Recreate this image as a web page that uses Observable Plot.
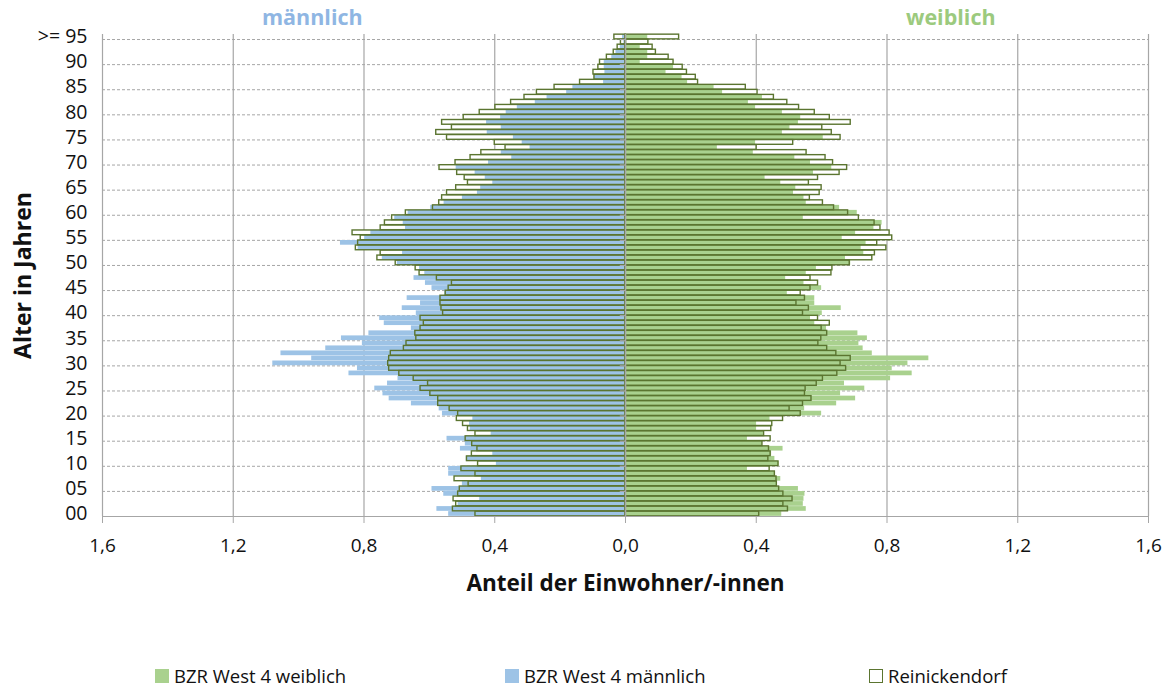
<!DOCTYPE html>
<html>
<head>
<meta charset="utf-8">
<script src="https://cdn.jsdelivr.net/npm/d3@7"></script>
<script src="https://cdn.jsdelivr.net/npm/@observablehq/plot@0.6"></script>
<style>
  html, body { margin: 0; padding: 0; background: #fff; }
  #wrap { position: relative; width: 1172px; height: 686px; font-family: "Open Sans", Lato, sans-serif; }
  .hdr { position: absolute; top: 2px; font-weight: 700; font-size: 21.5px; }
  .leg { position: absolute; top: 663px; font-size: 18.5px; color: #111; display: flex; align-items: center; }
  .sw { display: inline-block; width: 14px; height: 14px; margin-right: 5px; box-sizing: border-box; }
</style>
</head>
<body>
<div id="wrap"></div>
<script>
// Age categories 0 .. 95 (95 = ">= 95")
const ages = d3.range(0, 96);
const ageTickLabels = ["00","05","10","15","20","25","30","35","40","45","50","55","60","65","70","75","80","85","90",">= 95"];
const ageTicks = [0,5,10,15,20,25,30,35,40,45,50,55,60,65,70,75,80,85,90,95];
const xTicks = [-1.6,-1.2,-0.8,-0.4,0,0.4,0.8,1.2,1.6];
const seriesNames = ["BZR West 4 weiblich", "BZR West 4 männlich", "Reinickendorf"];

// Share of residents (%) by age, index = age
const bzrMaennlich = [
0.541,0.577,0.512,0.446,0.556,0.592,0.499,0.441,0.541,0.541,
0.395,0.487,0.406,0.505,0.490,0.546,0.411,0.475,0.477,0.467,
0.560,0.570,0.655,0.723,0.742,0.767,0.728,0.696,0.846,0.820,
1.079,0.960,1.054,0.917,0.805,0.869,0.785,0.655,0.738,0.752,
0.640,0.683,0.627,0.668,0.553,0.592,0.612,0.647,0.614,0.630,
0.698,0.744,0.682,0.818,0.872,0.798,0.779,0.673,0.680,0.706,
0.665,0.596,0.555,0.499,0.453,0.443,0.406,0.429,0.460,0.518,
0.419,0.348,0.380,0.292,0.316,0.343,0.423,0.380,0.425,0.382,
0.365,0.331,0.276,0.240,0.180,0.161,0.067,0.095,0.063,0.065,
0.065,0.042,0.029,0.016,0.005,0.009];

const reiMaennlich = [
0.459,0.528,0.518,0.526,0.512,0.507,0.480,0.523,0.459,0.502,
0.451,0.485,0.470,0.453,0.469,0.489,0.459,0.482,0.497,0.516,
0.512,0.538,0.573,0.573,0.597,0.627,0.604,0.648,0.692,0.723,
0.726,0.723,0.718,0.678,0.670,0.640,0.643,0.627,0.617,0.627,
0.558,0.563,0.566,0.566,0.550,0.541,0.531,0.577,0.630,0.642,
0.703,0.759,0.749,0.825,0.818,0.810,0.835,0.749,0.736,0.714,
0.672,0.589,0.570,0.561,0.546,0.518,0.482,0.492,0.515,0.569,
0.520,0.474,0.441,0.367,0.400,0.546,0.579,0.531,0.561,0.495,
0.446,0.398,0.350,0.309,0.271,0.217,0.139,0.095,0.098,0.083,
0.078,0.057,0.036,0.024,0.014,0.034];

const bzrWeiblich = [
0.478,0.553,0.544,0.546,0.549,0.529,0.465,0.475,0.457,0.373,
0.470,0.457,0.447,0.482,0.419,0.373,0.422,0.401,0.401,0.442,
0.600,0.548,0.646,0.704,0.658,0.732,0.670,0.811,0.877,0.816,
0.864,0.928,0.755,0.727,0.714,0.740,0.711,0.615,0.579,0.566,
0.602,0.660,0.579,0.579,0.495,0.600,0.546,0.490,0.553,0.584,
0.689,0.673,0.729,0.721,0.736,0.663,0.704,0.760,0.785,0.544,
0.709,0.655,0.553,0.546,0.514,0.521,0.475,0.427,0.575,0.631,
0.566,0.518,0.391,0.281,0.398,0.605,0.480,0.503,0.529,0.536,
0.480,0.398,0.376,0.419,0.297,0.271,0.190,0.173,0.124,0.147,
0.045,0.068,0.068,0.045,0.005,0.068];

const reiWeiblich = [
0.409,0.497,0.483,0.511,0.483,0.470,0.463,0.462,0.457,0.441,
0.468,0.437,0.444,0.439,0.419,0.444,0.424,0.446,0.449,0.482,
0.536,0.502,0.543,0.569,0.549,0.551,0.585,0.604,0.648,0.675,
0.658,0.689,0.645,0.617,0.590,0.599,0.617,0.600,0.625,0.589,
0.543,0.561,0.523,0.549,0.536,0.566,0.589,0.566,0.630,0.633,
0.686,0.755,0.763,0.798,0.770,0.816,0.808,0.780,0.762,0.714,
0.681,0.638,0.604,0.564,0.594,0.600,0.561,0.589,0.655,0.678,
0.635,0.612,0.554,0.401,0.513,0.658,0.631,0.602,0.689,0.625,
0.579,0.531,0.495,0.454,0.404,0.368,0.222,0.215,0.188,0.175,
0.147,0.132,0.093,0.083,0.070,0.164];

const BLUE = "#9dc3e6", GREEN = "#a9d18e", OLIVE = "#5b7530", GRID = "#a6a6a6";

const rows = ages.map((a, i) => ({
  age: a, bm: bzrMaennlich[i], rm: reiMaennlich[i], bw: bzrWeiblich[i], rw: reiWeiblich[i]
}));

const H = 0.47;
const band = {y1: d => d.age - H, y2: d => d.age + H};
const gridAges = ageTicks.filter(a => a > 0);
const FONT = "'Open Sans', Lato, sans-serif";

const chart = Plot.plot({
  width: 1172, height: 686,
  marginLeft: 102, marginRight: 24, marginTop: 34, marginBottom: 170,
  style: {fontFamily: FONT, background: "white"},
  x: {type: "linear", domain: [-1.6, 1.6]},
  y: {type: "linear", domain: [-0.5, 95.5]},
  marks: [
    // grid
    Plot.ruleY(gridAges, {y: a => a - 0.5, stroke: GRID, strokeDasharray: "3,2", strokeWidth: 1}),
    Plot.ruleX(xTicks.filter(v => v !== 0), {x: v => v, stroke: GRID, strokeWidth: 1.2}),
    // Reinickendorf white fill underneath
    Plot.rectX(rows, {...band, x1: () => 0, x2: d => -d.rm, fill: "white"}),
    Plot.rectX(rows, {...band, x1: () => 0, x2: d => d.rw, fill: "white"}),
    // BZR bars
    Plot.rectX(rows, {...band, x1: () => 0, x2: d => -d.bm, fill: BLUE}),
    Plot.rectX(rows, {...band, x1: () => 0, x2: d => d.bw, fill: GREEN}),
    // Reinickendorf outlines on top
    Plot.rectX(rows, {...band, x1: () => 0, x2: d => -d.rm, fill: "none", stroke: OLIVE, strokeWidth: 1.4}),
    Plot.rectX(rows, {...band, x1: () => 0, x2: d => d.rw, fill: "none", stroke: OLIVE, strokeWidth: 1.4}),
    // center axis with small ticks
    Plot.ruleX([0], {x: v => v, stroke: GRID, strokeWidth: 1.5}),
    Plot.ruleY(gridAges, {y: a => a - 0.5, x1: () => -0.016, x2: () => 0, stroke: GRID, strokeWidth: 1.2}),
    Plot.ruleY([-0.5], {y: v => v, stroke: GRID, strokeWidth: 1.2}),
    // axes
    Plot.axisX({ticks: xTicks, tickFormat: d => Math.abs(d).toFixed(1).replace(".", ","), tickSize: 7, tickPadding: 15, fontSize: 19, stroke: GRID, label: null, color: "#111"}),
    Plot.axisY({ticks: ageTicks, tickFormat: (d, i) => ageTickLabels[i], tickSize: 0, tickPadding: 15, fontSize: 19.5, label: null, color: "#111"}),
    Plot.text(["Anteil der Einwohner/-innen"], {frameAnchor: "bottom", dy: 74, fontSize: 22.5, fontWeight: "bold", fill: "#111"}),
    Plot.text(["Alter in Jahren"], {frameAnchor: "left", textAnchor: "middle", dx: -79, rotate: -90, fontSize: 23, fontWeight: "bold", fill: "#111"})
  ]
});

const wrap = document.getElementById("wrap");
wrap.appendChild(chart);

function addDiv(cls, html, left, style) {
  const d = document.createElement("div");
  d.className = cls; d.innerHTML = html; d.style.left = left + "px";
  if (style) Object.assign(d.style, style);
  wrap.appendChild(d);
}
addDiv("hdr", "männlich", 262, {color: "#8fb6e3"});
addDiv("hdr", "weiblich", 906, {color: "#9cca7e"});
addDiv("leg", `<span class="sw" style="background:${GREEN}"></span>${seriesNames[0]}`, 155);
addDiv("leg", `<span class="sw" style="background:${BLUE}"></span>${seriesNames[1]}`, 505);
addDiv("leg", `<span class="sw" style="background:#fff;border:1.5px solid ${OLIVE}"></span>${seriesNames[2]}`, 869);
</script>
</body>
</html>
